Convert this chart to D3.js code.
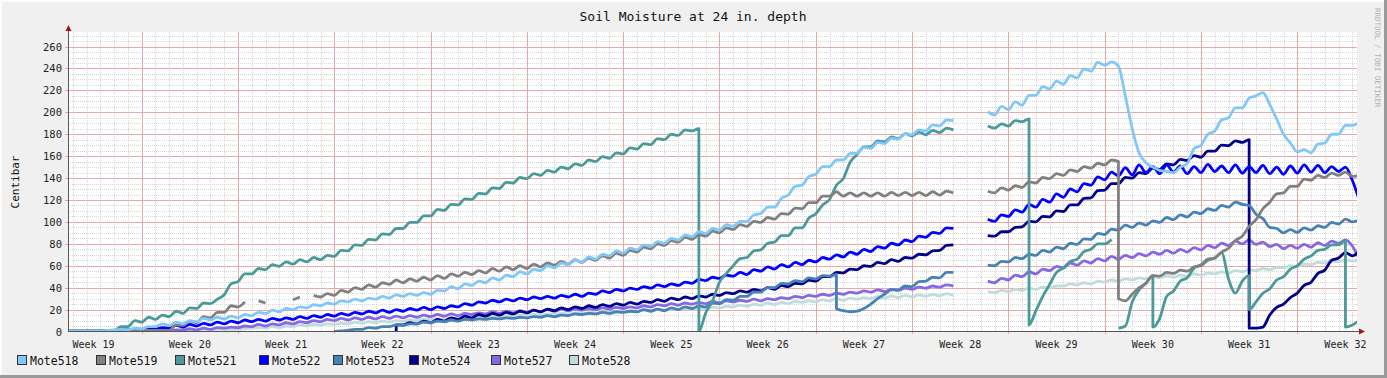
<!DOCTYPE html>
<meta charset="utf-8">
<script src="https://d3js.org/d3.v7.min.js"></script>
<style>
  body { margin: 0; background: #f0f0f0; }
  svg text { font-family: "DejaVu Sans Mono", monospace; }
</style>
<div id="chart"></div>
<script>
// one value every half day, the first one at day 1.5 of week 19
// [a, b] = sudden jump at that moment, null = no data
var startDay = 1.5, stepDay = 0.5;

var weekLabels = ["Week 19", "Week 20", "Week 21", "Week 22", "Week 23", "Week 24", "Week 25",
                  "Week 26", "Week 27", "Week 28", "Week 29", "Week 30", "Week 31", "Week 32"];
var yTicks = [0, 20, 40, 60, 80, 100, 120, 140, 160, 180, 200, 220, 240, 260];

var moteNames = ["Mote518", "Mote519", "Mote521", "Mote522", "Mote523", "Mote524", "Mote527", "Mote528"];
var moteColors = ["#80c8f8", "#808080", "#4a9a9a", "#0000ff", "#4682b4", "#00008b", "#8468e4", "#c0dcdc"];

var mote518 = [
  0.5,0.5,0.5,0.5,0.5,0.5,1,1.5,2,1.5,3,2.5,4.5,4.5,
  7,5.5,8.5,7,10,9,12,10.5,13,11.5,14,12.5,15.5,14.5,
  17.5,16.5,19.5,18,21,20,22.5,21.5,24.5,23.5,26,25,28,27,
  29.5,28,30.5,29.5,32,30.5,33.5,32,34.5,33,35.5,34,37.5,37,
  41,39,43.5,42,46,44.5,49,47,51.5,50,54.5,52.5,57,55.5,
  60,58,62.5,61,65,63.5,68,66,70.5,69,73.5,71.5,76,74.5,
  79,77.5,82,80.5,85,83.5,88,86.5,91,89.5,94,92.5,97.5,96,
  100.5,100.5,106.5,107.5,113.5,113.5,121.5,124.5,132.5,133.5,141.5,143.5,150.5,150.5,
  156.5,156.5,162.5,162.5,168,167,172.5,171.5,176.5,175.5,180.5,179.5,184,183,
  188.5,187.5,193,192.5,null,null,null,null,200.5,197.5,205.5,202.5,209.5,206.5,
  215.5,215.5,223.5,221.5,228.5,225.5,233.5,231.5,239.5,237.5,245.5,243,246,242,
  215,185,163,154,150,147,146,145,150,153,167,170,180,183,
  193,195,204,204,213,215,218,207,194,180,172,164,166,163,
  171,172,180,180,188,188,191
];
var mote519 = [
  1,1,1,1,1,1,1,1,1,1,1,1,1,1,
  1,1,6,5.5,9.5,8,13.5,12.5,17.5,17.5,23.5,22.5,27,null,
  28,26,null,null,null,29,31.5,null,33,31.5,34.5,33,37.5,36,
  40,38.5,42.5,40.5,44.5,43,47,44.5,48,46,49.5,47,51,48.5,
  52.5,50.5,54,52,55.5,53.5,57.5,55,59,56.5,60,57.5,61.5,59,
  62.5,60.5,64,61.5,65.5,63,67,65,69,67,71.5,69.5,74,72.5,
  77,75.5,80,78.5,83,81.5,86,84,88.5,87,91.5,90,94.5,93,
  97.5,96,100.5,99.5,104,102.5,107.5,107,112.5,112,117.5,117.5,123.5,123.5,
  127.5,123.5,126.5,123.5,126.5,123.5,126.5,123.5,127,124,127,124,127,124,
  127.5,124.5,128,126.5,null,null,null,null,128,126.5,131,129,133,131.5,
  136.5,135.5,140.5,139.5,144,142.5,147.5,146,150.5,149,153.5,152,156.5,[155,30],
  28,34,40,44,51,50.5,54,53,56,55,59,60,65,67,
  72.5,76,83,87,96,102,112,118,125.5,126.5,132.5,132.5,139,138,
  142.5,140.5,144.5,142.5,145.5,141.5,142.5
];
var mote521 = [
  1,1,1,1,1,1,1,1,4.5,4.5,10,8.5,13,11,
  15,13.5,18.5,16.5,21.5,21,26,25.5,29.5,33.5,43.5,45.5,52.5,52.5,
  57.5,56.5,61,59.5,63.5,61.5,65.5,63.5,67.5,65.5,69.5,68.5,74,73.5,
  79,78.5,84,83.5,89,88.5,94,94,99.5,99.5,105.5,105.5,111.5,110.5,
  116,115.5,121,120.5,126,125.5,131,130.5,136,135.5,140.5,139.5,144,142.5,
  147,145.5,150,148.5,153,151.5,156.5,155,159.5,158,163,162,167.5,166.5,
  171.5,170.5,176,175,180,179,184,183,[185,0],17,28,45,53,60,
  66.5,67.5,73.5,74.5,80.5,81.5,87.5,87.5,94.5,94.5,103.5,107.5,115.5,120.5,
  133.5,139.5,154.5,161.5,168.5,168.5,174,173,177.5,176,180.5,178.5,182,179.5,
  183.5,181.5,185.5,184,null,null,null,null,187.5,185.5,189.5,187.5,192.5,191.5,
  [194,6],19,32,43,54,58,64,66,73,75,80,80,[84,null],3,
  5,27,38,44,[51,4],12,32,37,46,49,58,61,66,67,
  72,48,35,46,[51,20],27,35,39,47,50,57,60,66,69,
  74,75,79,79,[83,4],6,10
];
var mote522 = [
  1,1,1,1,1,1,1,1,1.5,1.5,2,2,2.5,2.5,
  3.5,3,5.5,4,6.5,5,7.5,6,8.5,7,9.5,8,10.5,9,
  11,9.5,12,10.5,12.5,11,13.5,12,14.5,13,15.5,14,16.5,15,
  17.5,16,18.5,17,19.5,17.5,20,18.5,21,19.5,22,20,22.5,21,
  23.5,22.5,25.5,24,27,26,28.5,27,29.5,28,30.5,29,31.5,30,
  32,30.5,33,31.5,34,32,35,34,37,35.5,38.5,37,39.5,38.5,
  41,39.5,42.5,41,43.5,42,45,44,47.5,46.5,49.5,48.5,51.5,50.5,
  54,52,56.5,55,59,57,61,59,63,61,65,63.5,67.5,66,
  70,68,72.5,70.5,75,73,77.5,76,80.5,79,83.5,82,87,86,
  90.5,89.5,94.5,94,null,null,null,null,102.5,100.5,106.5,105,111,109,
  116,113.5,120.5,118,125.5,122.5,130,127.5,135,133.5,141,138.5,145.5,142,
  149.5,143,152,145,150.5,144,152,145.5,151,144,150.5,145,152.5,146,
  151,145,152,144.5,150.5,145,151.5,144,150,143.5,151,144.5,152,145.5,
  151.5,145,150.5,146,150,138,120
];
var mote523 = [
  null,null,null,null,null,null,null,null,null,null,null,null,null,null,
  null,null,null,null,null,null,null,null,null,null,null,null,null,null,
  null,null,null,null,null,null,null,null,null,null,null,0,0.5,1,
  2,2,3.5,3,4.5,4.5,6,5.5,7,7,8.5,8,9.5,9,
  10.5,9.5,11,10.5,11.5,11,12,11.5,12.5,12,13,12.5,13.5,13,
  14.5,13.5,15,14.5,16,15.5,16.5,16,17.5,16.5,18,17.5,18.5,18,
  20,18.5,20.5,19,21.5,20,22.5,21,23.5,22.5,26,25.5,29,28.5,
  32,32,36,36,40,40,44,43.5,46.5,45.5,49,48,51,50.5,
  [52,21],19,18,18.5,21,25,30,34,38,38,41.5,41,45.5,46,
  49.5,49,54,54,null,null,null,null,60.5,60,64,63.5,67.5,66.5,
  70.5,69.5,74,72.5,77,75.5,80.5,79.5,84.5,84,89.5,88.5,93.5,92.5,
  97,95,99,97,101,99.5,104,102,106.5,104.5,109,107.5,112,110.5,
  115,113.5,118,116,115,107,103,95,94,90,93,90.5,94.5,92.5,
  96.5,95,99.5,98,102.5,100,102
];
var mote524 = [
  null,null,null,null,null,null,null,null,null,null,null,null,null,null,
  null,null,null,null,null,null,null,null,null,null,null,null,null,null,
  null,null,null,null,null,null,null,null,null,null,null,null,null,null,
  null,null,null,null,null,null,[0,6],6,8,7,9.5,8,11,9.5,
  12.5,11,14,12.5,15.5,14,16.5,15,17.5,16,18.5,17,19.5,18,
  20.5,19,21.5,20,22.5,21,23.5,22,24.5,23,25.5,24,26.5,25,
  27.5,26.5,29,27.5,30.5,29,31.5,30,32.5,31.5,34,33,35.5,34.5,
  37,36,38.5,37,40,38.5,42,41,44,43.5,47,46,50,50,
  54,53.5,57,56.5,60,59.5,63,62,65.5,64,67.5,67,70.5,70,
  73.5,74,78.5,79,null,null,null,null,87.5,87,91,91,95,95.5,
  100.5,100,105,104.5,110,109.5,115.5,115.5,121.5,122,128.5,129,135,135,
  140.5,140,145,144,149,148,153,152,157,156,160.5,159,164.5,164.5,
  170,169.5,174,172.5,[175,3],3,4,15,22,25,31,35,42,45,
  53,56,65,67,72,69,73
];
var mote527 = [
  1,1,1,1,1,1,1,1,1,1,1,1,1,1,
  1,1,1.5,1.5,2.5,1.5,3,2,3.5,3,4,3.5,5,4.5,
  6.5,5,7,6,8,7,9,8,10,9,11,10,12,10.5,
  12.5,11,13,11.5,13.5,12,14,12.5,14.5,13,15,13.5,15.5,14,
  16,14.5,16.5,15.5,17,16,18,16.5,18.5,17,19,17.5,19.5,18,
  20,18.5,20.5,19,20.5,19.5,21,20,21.5,20.5,22,21,22.5,21.5,
  23.5,22.5,24.5,23.5,25.5,24,26,25,26.5,25.5,27.5,26,28,27,
  28.5,27.5,29.5,28,30,29,31,30,32,31,33,32,34,33,
  35,34,36,35,37,36,38,36.5,38.5,37.5,39.5,38.5,40.5,39.5,
  41.5,40.5,42.5,41.5,null,null,null,null,46,44.5,48.5,47,51.5,50,
  54.5,52.5,57,55.5,59.5,58,62.5,60.5,64.5,62.5,66.5,64.5,68.5,66,
  69.5,67.5,71,69,72.5,70.5,74,71.5,75,72.5,76.5,74.5,78.5,76.5,
  80.5,78.5,82.5,80,83.5,79.5,81.5,77.5,79.5,75.5,78.5,76,79.5,77,
  81,78.5,82.5,80.5,83.5,78,66
];
var mote528 = [
  0.5,0.5,0.5,0.5,0.5,0.5,0.5,0.5,0.5,0.5,0.5,0.5,0.5,0.5,
  0.5,0.5,0.5,0.5,1,1,1.5,1.5,2,2,2,2,2.5,3,
  3.5,3,4.5,3.5,5,4.5,6,5,6.5,6,7,6.5,7.5,7,
  8.5,7.5,9,8,9.5,8.5,10,9.5,10.5,10,11.5,10.5,12,11,
  12.5,11.5,13,12,13.5,12.5,14,13.5,14.5,14,15,14.5,15.5,15,
  16,15.5,16.5,16,17,16.5,17.5,17,18,17.5,18.5,18,19,18.5,
  19.5,19,20,19.5,20.5,20,21,20.5,21.5,20.5,22,21.5,23,22.5,
  24,23,25,24,26,24.5,26.5,25.5,27.5,26.5,28,27,29,28,
  30,28.5,30.5,29.5,31,30,32,30.5,32.5,31,33,31.5,33.5,32,
  34,32.5,34.5,33,null,null,null,null,36.5,35.5,37.5,36.5,38.5,37.5,
  39.5,38.5,40.5,39.5,41.5,41.5,43.5,42.5,44.5,43.5,46,45,47,46,
  48,47,49,48,50,49,51,49.5,51.5,50.5,52.5,51.5,53.5,52.5,
  54.5,53.5,55.5,54.5,56.5,55.5,57.5,56.5,58.5,58,60,59.5,61.5,61,
  63,62.5,64.5,63.5,65.5,64.5,65
];

var moteValues = [mote518, mote519, mote521, mote522, mote523, mote524, mote527, mote528];

// plot box (px)
var W = 1387, H = 378;
var plotL = 68, plotR = 1357, plotT = 32, plotB = 331;

var svg = d3.select("#chart").append("svg")
    .attr("width", W).attr("height", H);

// frame
svg.append("rect").attr("width", W).attr("height", H).attr("fill", "#f0f0f0");
svg.append("path").attr("d", "M1,377V1H1386").attr("stroke", "#fcfcfc").attr("stroke-width", 2).attr("fill", "none");
svg.append("path").attr("d", "M0,376.5H1385.5V0").attr("stroke", "#9a9a9a").attr("stroke-width", 3).attr("fill", "none");

svg.append("rect")
    .attr("x", plotL).attr("y", plotT)
    .attr("width", plotR - plotL).attr("height", plotB - plotT)
    .attr("fill", "#fff");

// day scale: day 0 = start of week 19
var x = d3.scaleLinear().domain([1.643, 95.34]).range([plotL, plotR]);
var y = d3.scaleLinear().domain([0, 273]).range([331.5, 32.3]);

var grid = svg.append("g").attr("shape-rendering", "crispEdges");

// minor grid
var days = d3.range(Math.ceil(x.domain()[0]), Math.floor(x.domain()[1]) + 1);
grid.selectAll(".vmin").data(days.filter(function(d) { return d % 7 != 0; }))
  .enter().append("line")
    .attr("x1", function(d) { return Math.round(x(d)) + 0.5; })
    .attr("x2", function(d) { return Math.round(x(d)) + 0.5; })
    .attr("y1", plotT).attr("y2", plotB)
    .attr("stroke", "#d6d6d6").attr("stroke-dasharray", "1,1");
grid.selectAll(".hmin").data(d3.range(5, 275, 5).filter(function(v) { return v % 20 != 0; }))
  .enter().append("line")
    .attr("x1", plotL).attr("x2", plotR)
    .attr("y1", function(v) { return Math.round(y(v)) + 0.5; })
    .attr("y2", function(v) { return Math.round(y(v)) + 0.5; })
    .attr("stroke", "#d6d6d6").attr("stroke-dasharray", "1,1");

// major grid
grid.selectAll(".vmaj").data(days.filter(function(d) { return d % 7 == 0; }))
  .enter().append("line")
    .attr("x1", function(d) { return Math.round(x(d)) + 0.5; })
    .attr("x2", function(d) { return Math.round(x(d)) + 0.5; })
    .attr("y1", plotT).attr("y2", plotB + 3)
    .attr("stroke", "#eaa8a8");
grid.selectAll(".hmaj").data(yTicks.slice(1))
  .enter().append("line")
    .attr("x1", plotL - 3).attr("x2", plotR)
    .attr("y1", function(v) { return Math.round(y(v)) + 0.5; })
    .attr("y2", function(v) { return Math.round(y(v)) + 0.5; })
    .attr("stroke", "#eaa8a8");

// series
function points(vals) {
  var pts = [];
  vals.forEach(function(v, i) {
    var d = startDay + i * stepDay;
    if (Array.isArray(v)) {
      pts.push({d: d, v: v[0]});
      pts.push({d: d, v: v[1]});
    } else {
      pts.push({d: d, v: v});
    }
  });
  return pts;
}

svg.append("clipPath").attr("id", "plotclip")
  .append("rect").attr("x", plotL).attr("y", plotT)
  .attr("width", plotR - plotL).attr("height", plotB - plotT + 1);

var line = d3.line()
    .defined(function(p) { return p.v !== null; })
    .x(function(p) { return x(p.d); })
    .y(function(p) { return y(p.v); })
    .curve(d3.curveMonotoneX);

var order = d3.range(moteNames.length).reverse();
svg.append("g").attr("clip-path", "url(#plotclip)")
  .selectAll("path").data(order)
  .enter().append("path")
    .attr("d", function(k) { return line(points(moteValues[k])); })
    .attr("fill", "none")
    .attr("stroke", function(k) { return moteColors[k]; })
    .attr("stroke-width", 2.8)
    .attr("stroke-linejoin", "round");

// axes
svg.append("line").attr("x1", plotL + 0.5).attr("x2", plotL + 0.5)
  .attr("y1", 29).attr("y2", plotB + 0.5).attr("stroke", "#555");
svg.append("line").attr("x1", plotL).attr("x2", 1362)
  .attr("y1", plotB + 0.5).attr("y2", plotB + 0.5).attr("stroke", "#555");
svg.append("path").attr("d", "M" + (plotL + 0.5) + ",25L" + (plotL + 3.5) + ",31L" + (plotL - 2.5) + ",31Z").attr("fill", "#9b1b1b");
svg.append("path").attr("d", "M1365," + (plotB + 0.5) + "L1359," + (plotB - 2.5) + "L1359," + (plotB + 3.5) + "Z").attr("fill", "#9b1b1b");

svg.append("g").selectAll("text").data(yTicks)
  .enter().append("text")
    .attr("x", 62).attr("y", function(v) { return y(v) + 4; })
    .attr("text-anchor", "end").attr("font-size", "10.5px").attr("fill", "#222")
    .text(function(v) { return v; });

svg.append("g").selectAll("text").data(weekLabels)
  .enter().append("text")
    .attr("x", function(w, i) { return x(7 * i + 3.5); }).attr("y", 348)
    .attr("text-anchor", "middle").attr("font-size", "10px").attr("fill", "#222")
    .text(function(w) { return w; });

// titles
svg.append("text").attr("x", 693).attr("y", 21).attr("text-anchor", "middle")
  .attr("font-size", "13px").attr("fill", "#111").text("Soil Moisture at 24 in. depth");
svg.append("text").attr("transform", "translate(19,182) rotate(-90)").attr("text-anchor", "middle")
  .attr("font-size", "11px").attr("fill", "#111").text("Centibar");
svg.append("text").attr("transform", "translate(1375,8) rotate(90)")
  .attr("font-size", "7.5px").attr("fill", "#b0b0b0").text("RRDTOOL / TOBI OETIKER");

// legend
var legendX = [17, 96, 175, 259, 333, 409, 491, 569];
var leg = svg.append("g").selectAll("g").data(moteNames)
  .enter().append("g")
    .attr("transform", function(n, i) { return "translate(" + legendX[i] + ",355)"; });
leg.append("rect").attr("x", 0.5).attr("y", 0.5).attr("width", 9).attr("height", 9)
  .attr("fill", function(n, i) { return moteColors[i]; })
  .attr("stroke", "#333");
leg.append("text").attr("x", 13).attr("y", 9.5).attr("font-size", "11.5px").attr("fill", "#111")
  .text(function(n) { return n; });
</script>
